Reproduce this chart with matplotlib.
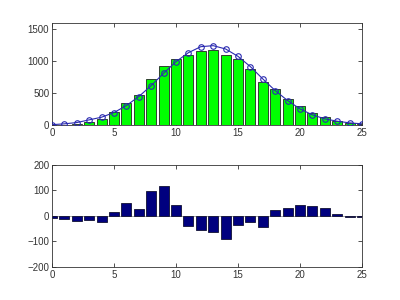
import matplotlib
matplotlib.use('Agg')
import matplotlib.pyplot as plt

# bin positions
bins = list(range(26))

# histogram counts (green bars)
counts = [2, 5, 8, 52, 94, 208, 343, 473, 718, 915, 1030, 1097, 1160, 1170,
          1097, 1024, 874, 676, 562, 406, 291, 192, 120, 62, 31, 16]

# fitted curve (blue line with circles)
fitted = [3, 16, 36, 78, 120, 192, 302, 442, 614, 806, 988, 1128, 1222, 1238,
          1186, 1071, 910, 718, 536, 380, 250, 156, 94, 57, 31, 16]

# residuals (bottom bars)
residuals = [-7, -13, -21, -17, -26, 16, 49, 26, 96, 116, 43, -38, -56, -65,
             -91, -35, -26, -43, 23, 30, 43, 39, 32, 9, -4, -6]

top_yticks = [0, 500, 1000, 1500]
bottom_yticks = [-200, -100, 0, 100, 200]
xticks = [0, 5, 10, 15, 20, 25]

plt.rcParams['font.family'] = ['Liberation Sans', 'DejaVu Sans']
plt.rcParams['font.size'] = 7

fig = plt.figure(figsize=(4, 3), dpi=100)
ax1 = fig.add_axes([0.13, 0.5838, 0.775, 0.3412])
ax2 = fig.add_axes([0.13, 0.11, 0.775, 0.3412])

# top: histogram + fit
ax1.bar(bins, counts, width=0.8, color='#00ff00', edgecolor='#222222', linewidth=0.6, zorder=2)
ax1.plot(bins, fitted, '-o', color='#2a2ab0', markerfacecolor='none', markersize=4,
         linewidth=0.8, markeredgewidth=0.8, zorder=3)
ax1.set_xlim(0, 25)
ax1.set_ylim(0, 1600)
ax1.set_yticks(top_yticks)
ax1.set_xticks(xticks)

# bottom: residuals
ax2.axhline(0, color='#999999', linewidth=0.6, zorder=1)
ax2.bar(bins, residuals, width=0.8, color='#00007f', edgecolor='#111133', linewidth=0.6, zorder=2)
ax2.set_xlim(0, 25)
ax2.set_ylim(-200, 200)
ax2.set_yticks(bottom_yticks)
ax2.set_xticks(xticks)

for ax in (ax1, ax2):
    ax.tick_params(direction='in', top=True, right=True, length=3, width=0.6,
                   labelsize=7, colors='#333333', pad=2)
    for s in ax.spines.values():
        s.set_linewidth(0.6)
        s.set_color('#333333')

fig.savefig('out.png', dpi=100, facecolor='white')
